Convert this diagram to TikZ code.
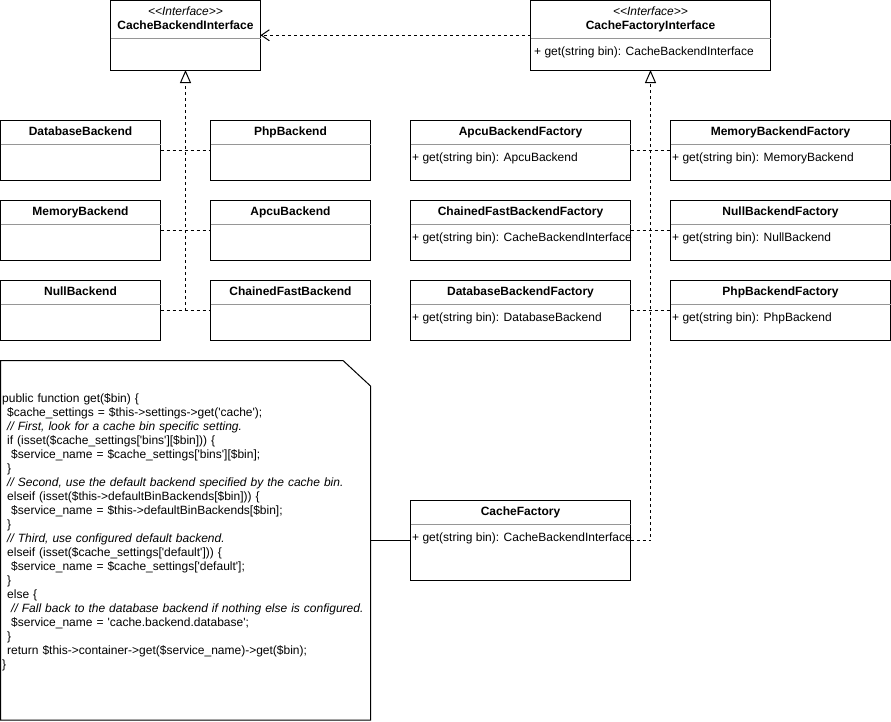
\documentclass[tikz,border=0pt]{standalone}
\usepackage{fontspec}
\setmainfont{Liberation Sans}
\usetikzlibrary{arrows.meta}
\newcommand{\squo}{\textquotesingle}
\definecolor{sepgray}{RGB}{150,150,150}
\tikzset{
  boxshape/.style={draw, line width=1pt, fill=white, anchor=north west, inner sep=0pt, outer sep=0pt},
  sepline/.style={draw=sepgray, line width=1pt},
  titletext/.style={font=\fontsize{12}{14}\selectfont\bfseries, inner sep=0pt, text height=9pt, text depth=2.5pt},
  stereotext/.style={font=\fontsize{12}{14}\selectfont\itshape, inner sep=0pt, text height=9pt, text depth=2.5pt},
  methtext/.style={font=\fontsize{12}{14}\selectfont, inner sep=0pt, anchor=west, text height=9pt, text depth=2.5pt},
  dep/.style={line width=1pt, dash pattern=on 3pt off 3pt},
  realize/.style={dep, -{Triangle[open, length=13pt, width=11pt]}},
  uses/.style={dep, -{Straight Barb[length=8pt, width=11pt]}},
  plainline/.style={line width=1pt},
}
% name, x, y, width, height, title, method
\newcommand{\clsbox}[7]{%
  \node[boxshape, minimum width=#4, minimum height=#5] (#1) at (#2,#3) {};
  \draw[sepline] ([yshift=-24pt]#1.north west) -- ([yshift=-24pt]#1.north east);
  \node[titletext] (#1-title) at ([yshift=-12pt]#1.north) {#6};
  \if\relax\detokenize{#7}\relax\else
  \node[methtext] (#1-meth) at ([yshift=-37.5pt, xshift=1.5pt]#1.north west) {#7};
  \fi
}
\begin{document}
\begin{tikzpicture}[x=1pt, y=-1pt]
\fill[white] (0,0) rectangle (891,721);
\useasboundingbox (0,0) rectangle (891,721);

% interfaces
\node[boxshape, minimum width=150pt, minimum height=69.5pt] (cbi) at (110.5,0.5) {};
\draw[sepline] ([yshift=-38pt]cbi.north west) -- ([yshift=-38pt]cbi.north east);
\node[stereotext] (cbi-st) at ([yshift=-11.5pt]cbi.north) {<{}<Interface>{}>};
\node[titletext] (cbi-title) at ([yshift=-25.5pt]cbi.north) {CacheBackendInterface};

\node[boxshape, minimum width=240pt, minimum height=69.5pt] (cfi) at (530.5,0.5) {};
\draw[sepline] ([yshift=-38pt]cfi.north west) -- ([yshift=-38pt]cfi.north east);
\node[stereotext] (cfi-st) at ([yshift=-11.5pt]cfi.north) {<{}<Interface>{}>};
\node[titletext] (cfi-title) at ([yshift=-25.5pt]cfi.north) {CacheFactoryInterface};
\node[methtext] (cfi-meth) at ([yshift=-52pt, xshift=3.5pt]cfi.north west) {+ get(string bin): CacheBackendInterface};

% backends
\clsbox{db}{0.5}{120.5}{160pt}{60pt}{DatabaseBackend}{}
\clsbox{php}{210.5}{120.5}{160pt}{60pt}{PhpBackend}{}
\clsbox{mem}{0.5}{200.5}{160pt}{60pt}{MemoryBackend}{}
\clsbox{apcu}{210.5}{200.5}{160pt}{60pt}{ApcuBackend}{}
\clsbox{null}{0.5}{280.5}{160pt}{60pt}{NullBackend}{}
\clsbox{chain}{210.5}{280.5}{160pt}{60pt}{ChainedFastBackend}{}

% factories
\clsbox{apcuF}{410.5}{120.5}{220pt}{60pt}{ApcuBackendFactory}{+ get(string bin): ApcuBackend}
\clsbox{memF}{670.5}{120.5}{220pt}{60pt}{MemoryBackendFactory}{+ get(string bin): MemoryBackend}
\clsbox{chainF}{410.5}{200.5}{220pt}{60pt}{ChainedFastBackendFactory}{+ get(string bin): CacheBackendInterface}
\clsbox{nullF}{670.5}{200.5}{220pt}{60pt}{NullBackendFactory}{+ get(string bin): NullBackend}
\clsbox{dbF}{410.5}{280.5}{220pt}{60pt}{DatabaseBackendFactory}{+ get(string bin): DatabaseBackend}
\clsbox{phpF}{670.5}{280.5}{220pt}{60pt}{PhpBackendFactory}{+ get(string bin): PhpBackend}

% cache factory
\clsbox{cf}{410.5}{500.5}{220pt}{80pt}{CacheFactory}{+ get(string bin): CacheBackendInterface}

% connectors
\draw[uses] (cfi.west) -- (cbi.east);
\draw[dep] (db.east) -- (php.west);
\draw[dep] (mem.east) -- (apcu.west);
\draw[dep] (null.east) -- (chain.west);
\coordinate (jl) at (cbi.south |- null.east);
\draw[realize] (jl) -- (cbi.south);

\draw[dep] (apcuF.east) -- (memF.west);
\draw[dep] (chainF.east) -- (nullF.west);
\draw[dep] (dbF.east) -- (phpF.west);
\draw[realize] (cf.east) -| (cfi.south);

% note
\draw[line width=1pt, fill=white] (0.5,360.5) -- (343,360.5) -- (370.5,386) -- (370.5,720) -- (0.5,720) -- cycle;
\coordinate (noteR) at (370.5,540.5);
\draw[plainline] (noteR) -- (cf.west);
\node[anchor=north west, inner sep=0pt, text width=366pt, align=left,
      font=\fontsize{12}{14}\selectfont] (code) at (2,392) {%
\rule{0pt}{10pt}public function get(\$bin) \{\\
\hspace*{5pt}\$cache\_settings = \$this->settings->get(\squo cache\squo);\\
\hspace*{5pt}\textit{// First, look for a cache bin specific setting.}\\
\hspace*{5pt}if (isset(\$cache\_settings[\squo bins\squo][\$bin])) \{\\
\hspace*{9pt}\$service\_name = \$cache\_settings[\squo bins\squo][\$bin];\\
\hspace*{5pt}\}\\
\hspace*{5pt}\textit{// Second, use the default backend specified by the cache bin.}\\
\hspace*{5pt}elseif (isset(\$this->defaultBinBackends[\$bin])) \{\\
\hspace*{9pt}\$service\_name = \$this->defaultBinBackends[\$bin];\\
\hspace*{5pt}\}\\
\hspace*{5pt}\textit{// Third, use configured default backend.}\\
\hspace*{5pt}elseif (isset(\$cache\_settings[\squo default\squo])) \{\\
\hspace*{9pt}\$service\_name = \$cache\_settings[\squo default\squo];\\
\hspace*{5pt}\}\\
\hspace*{5pt}else \{\\
\hspace*{9pt}\textit{// Fall back to the database backend if nothing else is configured.}\\
\hspace*{9pt}\$service\_name = \squo cache.backend.database\squo;\\
\hspace*{5pt}\}\\
\hspace*{5pt}return \$this->container->get(\$service\_name)->get(\$bin);\\
\}};
\end{tikzpicture}
\end{document}
